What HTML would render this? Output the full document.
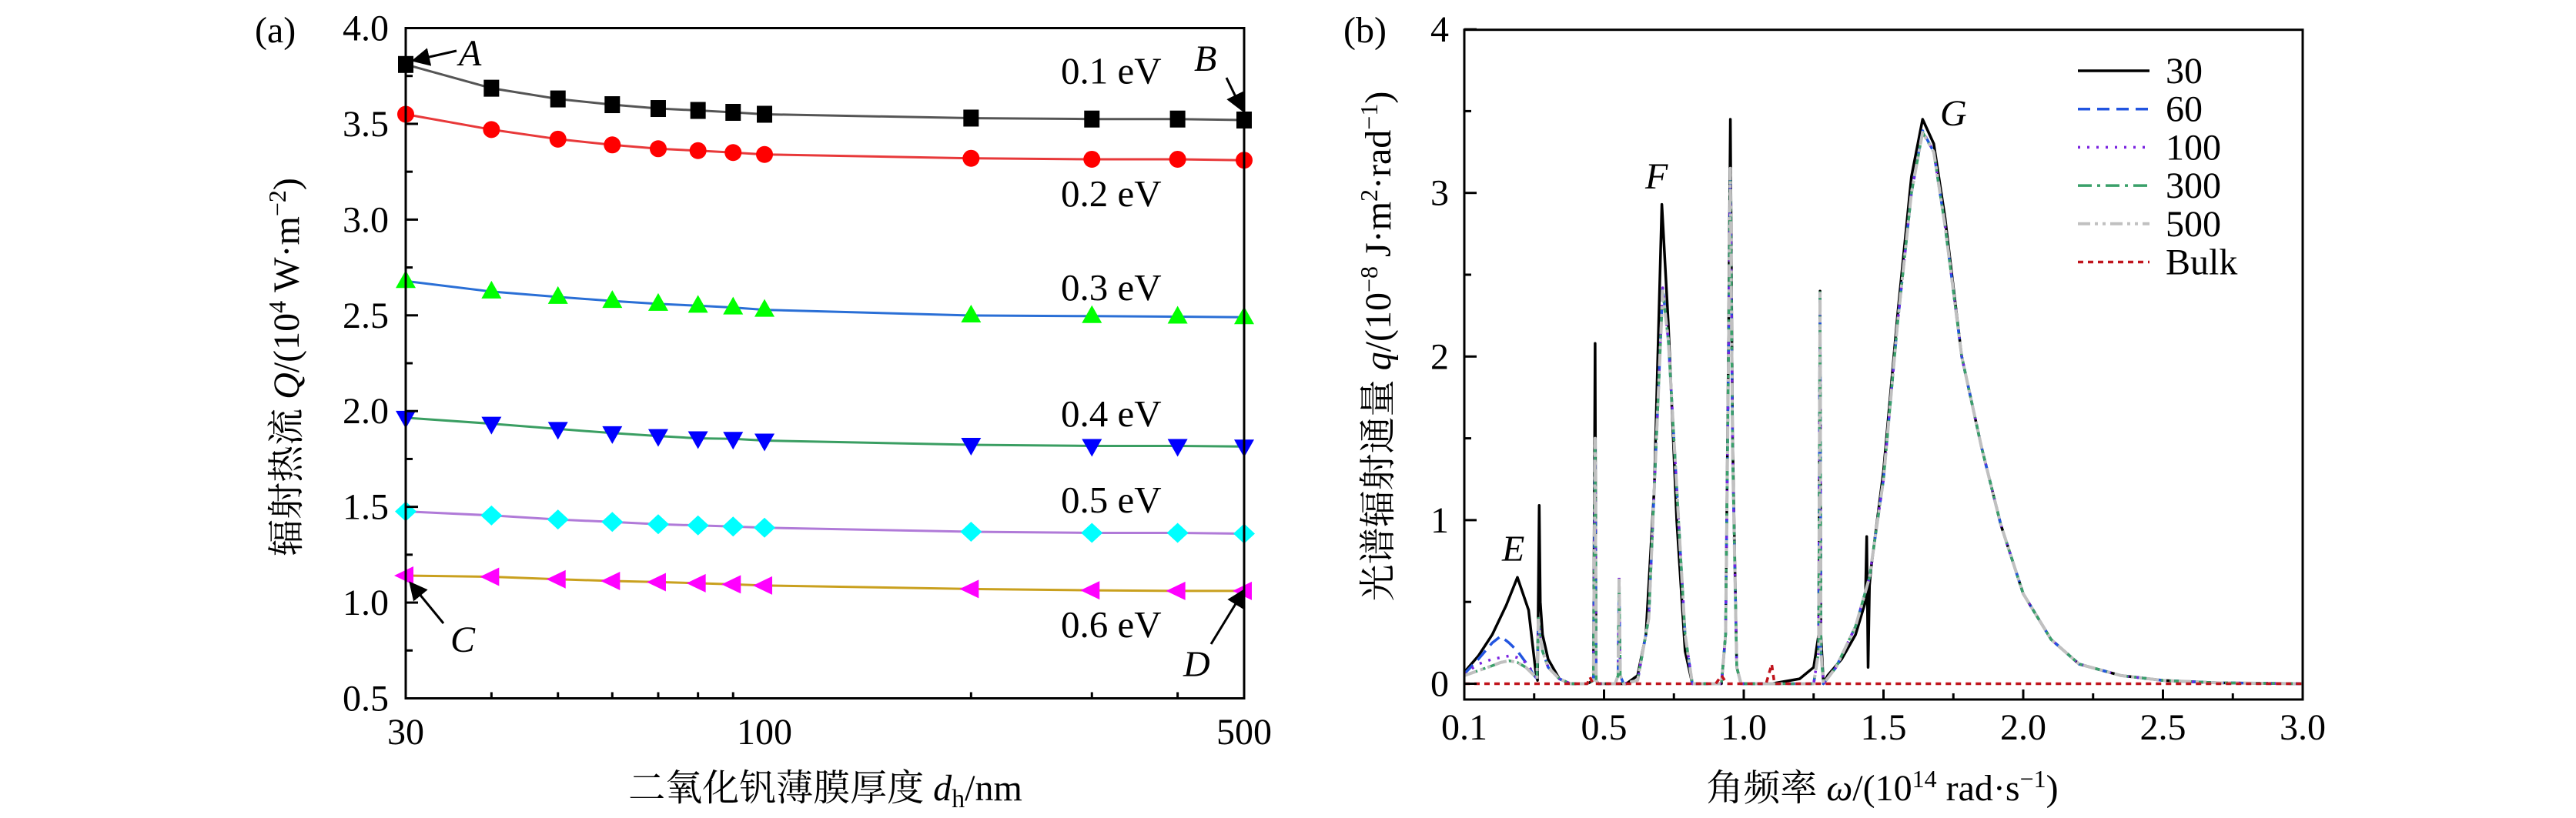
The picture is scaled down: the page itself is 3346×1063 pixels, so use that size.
<!DOCTYPE html>
<html><head><meta charset="utf-8">
<style>
html,body{margin:0;padding:0;background:#fff;overflow:hidden;}
svg{display:block;}
text{font-family:"Liberation Serif","Noto Serif CJK SC",serif;fill:#000;}
</style></head>
<body>
<svg id="fig" width="3346" height="1063" viewBox="0 0 3346 1063" xmlns="http://www.w3.org/2000/svg">
  <text x="331" y="55" font-size="48">(a)</text>
  <text x="1745" y="55" font-size="48">(b)</text>
  <g id="pa"></g>
  <g id="pb"></g>
  <text x="1072" y="1040" font-size="48" text-anchor="middle"><tspan font-family="Noto Serif CJK SC, serif">二氧化钒薄膜厚度</tspan> <tspan font-style="italic">d</tspan><tspan font-size="34" dy="9">h</tspan><tspan dy="-9">/nm</tspan></text>
  <text transform="translate(388,477) rotate(-90)" font-size="48" text-anchor="middle"><tspan font-family="Noto Serif CJK SC, serif">辐射热流</tspan> <tspan font-style="italic">Q</tspan>/(10<tspan font-size="32" dy="-17">4</tspan><tspan dy="17"> W·m</tspan><tspan font-size="32" dy="-17">−2</tspan><tspan dy="17">)</tspan></text>
  <text x="2445" y="1040" font-size="48" text-anchor="middle"><tspan font-family="Noto Serif CJK SC, serif">角频率</tspan> <tspan font-style="italic">ω</tspan>/(10<tspan font-size="32" dy="-17">14</tspan><tspan dy="17"> rad·s</tspan><tspan font-size="32" dy="-17">−1</tspan><tspan dy="17">)</tspan></text>
  <text transform="translate(1806,450) rotate(-90)" font-size="48" text-anchor="middle"><tspan font-family="Noto Serif CJK SC, serif">光谱辐射通量</tspan> <tspan font-style="italic">q</tspan>/(10<tspan font-size="32" dy="-17">−8</tspan><tspan dy="17"> J·m</tspan><tspan font-size="32" dy="-17">2</tspan><tspan dy="17">·rad</tspan><tspan font-size="32" dy="-17">−1</tspan><tspan dy="17">)</tspan></text>
</svg>
<script>
// ---------- Panel (a) data ----------
const thickness = [30,40,50,60,70,80,90,100,200,300,400,500];
const q01 = [3.81,3.686,3.63,3.60,3.58,3.57,3.56,3.55,3.53,3.525,3.525,3.52];
const q02 = [3.55,3.47,3.42,3.39,3.37,3.36,3.35,3.34,3.32,3.315,3.315,3.31];
const q03 = [2.679,2.624,2.596,2.575,2.560,2.550,2.541,2.529,2.499,2.496,2.493,2.490];
const q04 = [1.965,1.934,1.907,1.885,1.870,1.858,1.855,1.846,1.824,1.818,1.818,1.815];
const q05 = [1.476,1.455,1.434,1.421,1.409,1.403,1.397,1.391,1.370,1.364,1.364,1.360];
const q06 = [1.141,1.135,1.122,1.113,1.107,1.101,1.095,1.089,1.071,1.064,1.061,1.061];
const aYTicks = [0.5,1.0,1.5,2.0,2.5,3.0,3.5,4.0];
const aYTickLabels = ["0.5","1.0","1.5","2.0","2.5","3.0","3.5","4.0"];
const aXLabelVals = [30,100,500];
const aXLabels = ["30","100","500"];
const aXMinor = [40,50,60,70,80,90,200,300,400];
const energyLabels = ["0.1 eV","0.2 eV","0.3 eV","0.4 eV","0.5 eV","0.6 eV"];

// ---------- Panel (b) data ----------
const bXTicks = [0,0.5,1.0,1.5,2.0,2.5,3.0];
const bXTickLabels = ["0.1","0.5","1.0","1.5","2.0","2.5","3.0"];
const bYTicks = [0,1,2,3,4];
const bYTickLabels = ["0","1","2","3","4"];
const w30x = [0,0.05,0.1,0.15,0.19,0.23,0.255,0.262,0.268,0.272,0.28,0.3,0.34,0.38,0.44,0.462,0.468,0.472,0.48,0.52,0.58,0.62,0.65,0.68,0.707,0.73,0.76,0.79,0.816,0.92,0.935,0.945,0.952,0.96,0.975,0.99,1.1,1.2,1.25,1.268,1.273,1.276,1.285,1.3,1.35,1.4,1.435,1.44,1.445,1.45,1.455,1.5,1.55,1.6,1.64,1.68,1.72,1.78,1.85,1.92,2.0,2.1,2.2,2.35,2.5,2.7,3.0];
const q30 = [0.07,0.17,0.3,0.48,0.65,0.45,0.08,0.02,1.09,0.5,0.3,0.15,0.03,0,0,0.02,2.08,0.02,0,0,0,0.05,0.3,1.2,2.93,2.2,1.0,0.2,0,0,0.3,2.0,3.45,1.5,0.1,0,0,0.03,0.1,0.3,2.4,0.3,0,0.05,0.15,0.3,0.5,0.9,0.1,0.6,0.7,1.3,2.25,3.1,3.45,3.3,2.85,2.0,1.45,0.97,0.55,0.27,0.12,0.05,0.02,0.005,0];
const wFx = [0,0.05,0.1,0.13,0.16,0.19,0.22,0.25,0.26,0.265,0.27,0.28,0.3,0.34,0.38,0.44,0.462,0.468,0.472,0.48,0.54,0.55,0.554,0.558,0.57,0.62,0.66,0.69,0.71,0.73,0.76,0.79,0.816,0.92,0.935,0.945,0.952,0.96,0.975,0.99,1.1,1.25,1.268,1.273,1.276,1.285,1.33,1.4,1.45,1.5,1.55,1.6,1.64,1.68,1.72,1.78,1.85,1.92,2.0,2.1,2.2,2.35,2.5,2.7,3.0];
const q60 = [0.06,0.15,0.25,0.29,0.25,0.2,0.13,0.05,0.03,0.4,0.3,0.2,0.1,0.03,0,0,0.02,1.5,0.02,0,0,0.05,0.65,0.05,0,0.02,0.4,1.6,2.42,2.1,1.2,0.3,0,0,0.3,1.9,3.15,1.4,0.1,0,0,0,0.2,2.4,0.2,0,0.1,0.35,0.65,1.25,2.2,3.0,3.38,3.25,2.8,2.0,1.45,0.97,0.55,0.27,0.12,0.05,0.02,0.005,0];
const q100 = [0.06,0.12,0.15,0.16,0.17,0.16,0.13,0.06,0.03,0.4,0.3,0.2,0.1,0.03,0,0,0.02,1.5,0.02,0,0,0.05,0.65,0.05,0,0.02,0.4,1.6,2.42,2.1,1.2,0.3,0,0,0.3,1.9,3.15,1.4,0.1,0,0,0,0.2,2.4,0.2,0,0.1,0.35,0.65,1.25,2.2,3.0,3.38,3.25,2.8,2.0,1.45,0.97,0.55,0.27,0.12,0.05,0.02,0.005,0];
const q300 = [0.05,0.08,0.11,0.13,0.14,0.13,0.1,0.05,0.03,0.4,0.3,0.2,0.1,0.03,0,0,0.02,1.5,0.02,0,0,0.05,0.65,0.05,0,0.02,0.4,1.6,2.4,2.1,1.2,0.3,0,0,0.3,1.9,3.15,1.4,0.1,0,0,0,0.2,2.4,0.2,0,0.1,0.35,0.65,1.25,2.2,3.0,3.37,3.25,2.8,2.0,1.45,0.97,0.55,0.27,0.12,0.05,0.02,0.005,0];
const q500 = [0.05,0.08,0.11,0.13,0.14,0.13,0.1,0.05,0.03,0.4,0.3,0.2,0.1,0.03,0,0,0.02,1.5,0.02,0,0,0.05,0.65,0.05,0,0.02,0.4,1.6,2.4,2.1,1.2,0.3,0,0,0.3,1.9,3.15,1.4,0.1,0,0,0,0.2,2.4,0.2,0,0.1,0.35,0.65,1.25,2.2,3.0,3.37,3.25,2.8,2.0,1.45,0.97,0.55,0.27,0.12,0.05,0.02,0.005,0];
const bulkX = [0,0.44,0.45,0.46,0.9,0.92,0.94,1.08,1.1,1.11,3.0];
const qBulk = [0,0,0.04,0,0,0.05,0,0,0.12,0,0];
const legendLabels = ["30","60","100","300","500","Bulk"];

const NS = "http://www.w3.org/2000/svg";
function mk(tag, attrs, parent){ const e=document.createElementNS(NS,tag); for(const k in attrs) e.setAttribute(k,attrs[k]); parent.appendChild(e); return e; }

// ---------- Panel (a) ----------
const A = {l:527, r:1616, t:36.5, b:907.5};
const ax = d => A.l + Math.log(d/30)/Math.log(500/30)*(A.r-A.l);
const ay = v => A.b - (v-0.5)/3.5*(A.b-A.t);
const pa = document.getElementById('pa');
const aSeries = [
  {v:q01,line:"#555555",fill:"#000000",m:"square"},
  {v:q02,line:"#e8393a",fill:"#ff0000",m:"circle"},
  {v:q03,line:"#2a6fd6",fill:"#00ff00",m:"up"},
  {v:q04,line:"#3a9e62",fill:"#0000ff",m:"down"},
  {v:q05,line:"#b07ad8",fill:"#00ffff",m:"diamond"},
  {v:q06,line:"#c9a01e",fill:"#ff00ff",m:"left"}
];
const labelY = [3.71,3.07,2.58,1.92,1.47,0.82];
aSeries.forEach((s,si)=>{
  const g = mk('g',{},pa);
  
  
  let d='';
  thickness.forEach((t,i)=>{ d+=(i?'L':'M')+ax(t).toFixed(1)+' '+ay(s.v[i]).toFixed(1); });
  const p = mk('path',{d:d,fill:'none',stroke:s.line,'stroke-width':3},g);
  
  
  thickness.forEach((t,i)=>{
    const x=ax(t), y=ay(s.v[i]); let e;
    if(s.m==='square') e=mk('rect',{x:x-10,y:y-11,width:20,height:22,fill:s.fill},g);
    else if(s.m==='circle') e=mk('ellipse',{cx:x,cy:y,rx:11,ry:11,fill:s.fill},g);
    else if(s.m==='up') e=mk('polygon',{points:`${x},${y-14} ${x-13},${y+9} ${x+13},${y+9}`,fill:s.fill},g);
    else if(s.m==='down') e=mk('polygon',{points:`${x},${y+14} ${x-13},${y-9} ${x+13},${y-9}`,fill:s.fill},g);
    else if(s.m==='diamond') e=mk('polygon',{points:`${x},${y-13} ${x+14},${y} ${x},${y+13} ${x-14},${y}`,fill:s.fill},g);
    else e=mk('polygon',{points:`${x-15},${y} ${x+10},${y-12} ${x+10},${y+12}`,fill:s.fill},g);
    
    
  });
  const tx = mk('text',{x:1378,y:ay(labelY[si]),'font-size':49},pa);
  tx.textContent = energyLabels[si];
  
  
});
// frame & ticks a
const fa = mk('rect',{x:A.l,y:A.t,width:A.r-A.l,height:A.b-A.t,fill:'none',stroke:'#000','stroke-width':3},pa);


aYTicks.forEach((v,i)=>{
  mk('line',{x1:A.l,x2:A.l+16,y1:ay(v),y2:ay(v),stroke:'#000','stroke-width':3},pa);
  if(i<aYTicks.length-1) mk('line',{x1:A.l,x2:A.l+9,y1:ay(v+0.25),y2:ay(v+0.25),stroke:'#000','stroke-width':3},pa);
  const t = mk('text',{x:505,y:ay(v)+16,'font-size':48,'text-anchor':'end'},pa);
  t.textContent = aYTickLabels[i];
  
  
});
aXMinor.forEach(v=>mk('line',{x1:ax(v),x2:ax(v),y1:A.b,y2:A.b-8,stroke:'#000','stroke-width':3},pa));
aXLabelVals.forEach((v,i)=>{
  const t = mk('text',{x:ax(v),y:967,'font-size':48,'text-anchor':'middle'},pa);
  t.textContent = aXLabels[i];
  
  
});
// annotations a
const ann = [["A",596,85,593,66,540,78],["B",1551,92,1593,101,1612,140],["C",585,847,576,810,535,760],["D",1537,879,1573,837,1614,770]];
mk('defs',{},pa).innerHTML='<marker id="ah" markerWidth="8" markerHeight="8" refX="6" refY="4" orient="auto" markerUnits="strokeWidth"><path d="M0,0 L8,4 L0,8 z" fill="#000"/></marker>';
ann.forEach(a=>{
  const t = mk('text',{x:a[1],y:a[2],'font-size':48,'font-style':'italic'},pa);
  t.textContent=a[0];
  
  
  const l = mk('line',{x1:a[3],y1:a[4],x2:a[5],y2:a[6],stroke:'#000','stroke-width':3,'marker-end':'url(#ah)'},pa);
  
  
});

// ---------- Panel (b) ----------
const B = {l:1902, r:2991, t:38.7, b:909};
const bx = v => B.l + v/3*(B.r-B.l);
const by = v => 888.5 - v*212.6;
const pb = document.getElementById('pb');
const clip = mk('clipPath',{id:'cb'},pb); mk('rect',{x:B.l,y:B.t,width:B.r-B.l,height:B.b-B.t},clip);
const bSeries = [
  {x:w30x,y:q30,c:"#000000",dash:"",w:3.5},
  {x:wFx,y:q60,c:"#2255e0",dash:"16 9",w:3.5},
  {x:wFx,y:q100,c:"#7a22e0",dash:"3 9",w:3.5},
  {x:wFx,y:q300,c:"#3aa06a",dash:"18 7 4 7",w:3.5},
  {x:wFx,y:q500,c:"#c0c0c0",dash:"16 6 4 6 4 6",w:4},
  {x:bulkX,y:qBulk,c:"#c0141c",dash:"7 6",w:3.5}
];
const lg = mk('g',{},pb);


bSeries.forEach((s,si)=>{
  let d='';
  s.x.forEach((xv,i)=>{ d+=(i?'L':'M')+bx(xv).toFixed(1)+' '+by(s.y[i]).toFixed(1); });
  const p = mk('path',{d:d,fill:'none',stroke:s.c,'stroke-width':s.w,'stroke-dasharray':s.dash,'stroke-linejoin':'round','clip-path':'url(#cb)'},pb);
  
  
  const ly = 92 + si*49.7;
  const ll = mk('line',{x1:2699,x2:2792,y1:ly,y2:ly,stroke:s.c,'stroke-width':s.w,'stroke-dasharray':s.dash},lg);
  
  
  const lt = mk('text',{x:2813,y:ly+16,'font-size':48},lg);
  lt.textContent = legendLabels[si];
  
  
});
const fb = mk('rect',{x:B.l,y:B.t,width:B.r-B.l,height:B.b-B.t,fill:'none',stroke:'#000','stroke-width':3},pb);


bYTicks.forEach((v,i)=>{
  mk('line',{x1:B.l,x2:B.l+16,y1:by(v),y2:by(v),stroke:'#000','stroke-width':3},pb);
  if(i<bYTicks.length-1) mk('line',{x1:B.l,x2:B.l+9,y1:by(v+0.5),y2:by(v+0.5),stroke:'#000','stroke-width':3},pb);
  const t = mk('text',{x:1882,y:by(v)+16,'font-size':48,'text-anchor':'end'},pb);
  t.textContent = bYTickLabels[i];
  
  
});
bXTicks.forEach((v,i)=>{
  mk('line',{x1:bx(v),x2:bx(v),y1:B.b,y2:B.b-13,stroke:'#000','stroke-width':3},pb);
  if(i<bXTicks.length-1) mk('line',{x1:bx(v+0.25),x2:bx(v+0.25),y1:B.b,y2:B.b-8,stroke:'#000','stroke-width':3},pb);
  const t = mk('text',{x:bx(v),y:961,'font-size':48,'text-anchor':'middle'},pb);
  t.textContent = bXTickLabels[i];
  
  
});
[["E",1951,729],["F",2137,245],["G",2520,163]].forEach(a=>{
  const t = mk('text',{x:a[1],y:a[2],'font-size':48,'font-style':'italic'},pb);
  t.textContent=a[0];
  
  
});
</script>
</body></html>
